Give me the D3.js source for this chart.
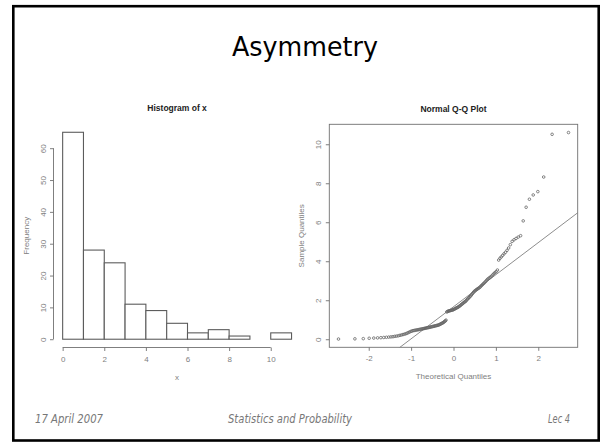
<!DOCTYPE html>
<html><head><meta charset="utf-8">
<script src="https://cdn.jsdelivr.net/npm/d3@7"></script>
<style>body{margin:0;background:#fff}svg{display:block}</style>
</head><body>
<svg id="c" width="602" height="444"></svg>
<script>
// ---------- data ----------
const slideTitle = "Asymmetry";
const footerTexts = ["17 April 2007", "Statistics and Probability", "Lec 4"];
const histBreaks = [0,1,2,3,4,5,6,7,8,9,10,11];
const histCounts = [65,28,24,11,9,5,2,3,1,0,2];
const histXTicks = [0,2,4,6,8,10];
const histYTicks = [0,10,20,30,40,50,60];
const sampleQuantiles = [
 0.01,0.02,0.03,0.05,0.06,0.07,0.08,0.09,0.10,0.11,
 0.12,0.13,0.15,0.16,0.18,0.20,0.22,0.24,0.26,0.28,
 0.31,0.34,0.37,0.40,0.42,0.44,0.45,0.46,0.47,0.48,
 0.49,0.50,0.51,0.52,0.53,0.54,0.55,0.56,0.57,0.58,
 0.59,0.60,0.61,0.62,0.63,0.64,0.65,0.66,0.67,0.68,
 0.69,0.70,0.71,0.72,0.73,0.75,0.77,0.79,0.81,0.83,
 0.85,0.88,0.91,0.94,0.98,
 1.40,1.42,1.44,1.45,1.46,1.47,1.48,1.49,1.50,1.51,
 1.53,1.55,1.57,1.59,1.61,1.63,1.65,1.67,1.70,1.73,
 1.76,1.79,1.82,1.85,1.88,1.91,1.94,1.97,
 2.02,2.06,2.10,2.14,2.18,2.22,2.27,2.32,2.37,2.42,
 2.46,2.50,2.53,2.56,2.59,2.62,2.65,2.69,2.74,2.78,
 2.83,2.87,2.92,2.97,
 3.03,3.08,3.12,3.16,3.20,3.25,3.31,3.37,3.42,3.47,3.55,
 4.06,4.15,4.22,4.30,4.38,4.46,4.56,4.68,4.85,
 5.02,5.10,5.17,5.24,5.31,
 6.07,6.77,7.18,7.40,7.57,8.32,10.51,10.60
];
const qqXTicks = [-2,-1,0,1,2];
const qqYTicks = [0,2,4,6,8,10];
const qqLineParams = [1.666, 1.645]; // intercept, slope

// ---------- helpers ----------
function qnorm(p){
 const a=[-3.969683028665376e+01,2.209460984245205e+02,-2.759285104469687e+02,1.383577518672690e+02,-3.066479806614716e+01,2.506628277459239e+00];
 const b=[-5.447609879822406e+01,1.615858368580409e+02,-1.556989798598866e+02,6.680131188771972e+01,-1.328068155288572e+01];
 const c=[-7.784894002430293e-03,-3.223964580411365e-01,-2.400758277161838e+00,-2.549732539343734e+00,4.374664141464968e+00,2.938163982698783e+00];
 const d=[7.784695709041462e-03,3.224671290700398e-01,2.445134137142996e+00,3.754408661907416e+00];
 const pl=0.02425, ph=1-pl; let q,r;
 if(p<pl){q=Math.sqrt(-2*Math.log(p));return (((((c[0]*q+c[1])*q+c[2])*q+c[3])*q+c[4])*q+c[5])/((((d[0]*q+d[1])*q+d[2])*q+d[3])*q+1);}
 if(p<=ph){q=p-0.5;r=q*q;return (((((a[0]*r+a[1])*r+a[2])*r+a[3])*r+a[4])*r+a[5])*q/(((((b[0]*r+b[1])*r+b[2])*r+b[3])*r+b[4])*r+1);}
 q=Math.sqrt(-2*Math.log(1-p));return -(((((c[0]*q+c[1])*q+c[2])*q+c[3])*q+c[4])*q+c[5])/((((d[0]*q+d[1])*q+d[2])*q+d[3])*q+1);
}
function pad4(ext){const r=ext[1]-ext[0];return [ext[0]-0.04*r, ext[1]+0.04*r];}
const fmt = d => String(d);

const svg = d3.select("#c");
const RFONT = "'Liberation Sans', Arial, sans-serif";
const SLIDEFONT = "'DejaVu Sans', 'Noto Sans', sans-serif";
const axisCol = "#707070", labCol = "#808080";

// slide frame
svg.append("rect").attr("x",13.3).attr("y",6.2).attr("width",585.4).attr("height",434.3)
  .attr("fill","#fff").attr("stroke","#000").attr("stroke-width",2.6);

svg.append("text").attr("x",305).attr("y",56).attr("text-anchor","middle")
  .attr("font-family",SLIDEFONT).attr("font-size",27).attr("fill","#000")
  .attr("textLength",146).attr("lengthAdjust","spacingAndGlyphs").text(slideTitle);

const footerX = [35, 228, 548], footerW = [68, 124, 22];
footerTexts.forEach((t,i)=>{
  svg.append("text").attr("x",footerX[i]).attr("y",423).attr("font-family",SLIDEFONT)
    .attr("font-style","italic").attr("font-size",11.5).attr("fill","#777")
    .attr("textLength",footerW[i]).attr("lengthAdjust","spacingAndGlyphs").text(t);
});

function styleAxis(g){
  g.selectAll(".domain").remove();
  g.selectAll(".tick line").attr("stroke",axisCol).attr("stroke-width",0.9);
  g.selectAll(".tick text").attr("fill",labCol).attr("font-family",RFONT).attr("font-size",8);
}
function rotateLeftLabels(g){
  g.selectAll(".tick text").attr("x",null).attr("dy",null).attr("y",-8)
    .attr("transform","rotate(-90)").attr("text-anchor","middle");
}

// ---------- histogram ----------
const H = {l:53.5, r:300.7, t:124, b:347.5};
const hx = d3.scaleLinear().domain(pad4([histBreaks[0], histBreaks[histBreaks.length-1]])).range([H.l,H.r]);
const hy = d3.scaleLinear().domain(pad4([0, d3.max(histCounts)])).range([H.b,H.t]);
const hg = svg.append("g");
hg.selectAll("rect.bar").data(histCounts).join("rect").attr("class","bar")
  .attr("x",(d,i)=>hx(histBreaks[i])).attr("width",(d,i)=>hx(histBreaks[i+1])-hx(histBreaks[i]))
  .attr("y",d=>hy(d)).attr("height",d=>hy(0)-hy(d))
  .attr("fill","#fff").attr("stroke","#5c5c5c").attr("stroke-width",1.1);
const hxa = hg.append("g").attr("transform",`translate(0,${H.b})`)
  .call(d3.axisBottom(hx).tickValues(histXTicks).tickSize(3.5).tickPadding(5).tickFormat(fmt));
styleAxis(hxa);
hxa.append("line").attr("x1",hx(histXTicks[0])).attr("x2",hx(histXTicks[histXTicks.length-1]))
  .attr("stroke",axisCol).attr("stroke-width",0.9);
const hya = hg.append("g").attr("transform",`translate(${H.l},0)`)
  .call(d3.axisLeft(hy).tickValues(histYTicks).tickSize(3.5).tickFormat(fmt));
styleAxis(hya); rotateLeftLabels(hya);
hya.append("line").attr("y1",hy(histYTicks[0])).attr("y2",hy(histYTicks[histYTicks.length-1]))
  .attr("stroke",axisCol).attr("stroke-width",0.9);
hg.append("text").attr("x",(H.l+H.r)/2).attr("y",111).attr("text-anchor","middle")
  .attr("font-family",RFONT).attr("font-weight","bold").attr("font-size",8.5).attr("fill","#222").text("Histogram of x");
hg.append("text").attr("x",(H.l+H.r)/2).attr("y",379.5).attr("text-anchor","middle")
  .attr("font-family",RFONT).attr("font-size",8).attr("fill",labCol).text("x");
hg.append("text").attr("transform",`translate(29,${(H.t+H.b)/2}) rotate(-90)`).attr("text-anchor","middle")
  .attr("font-family",RFONT).attr("font-size",8).attr("fill",labCol).text("Frequency");

// ---------- Q-Q plot ----------
const Q = {l:329.3, r:577.7, t:124.3, b:347.3};
const n = sampleQuantiles.length;
const theo = sampleQuantiles.map((v,i)=>qnorm((i+1-0.5)/n));
const qx = d3.scaleLinear().domain(pad4(d3.extent(theo))).range([Q.l,Q.r]);
const qy = d3.scaleLinear().domain(pad4(d3.extent(sampleQuantiles))).range([Q.b,Q.t]);
const qg = svg.append("g");
svg.append("clipPath").attr("id","qclip").append("rect")
  .attr("x",Q.l).attr("y",Q.t).attr("width",Q.r-Q.l).attr("height",Q.b-Q.t);
const xd = qx.domain();
qg.append("line").attr("clip-path","url(#qclip)")
  .attr("x1",qx(xd[0])).attr("x2",qx(xd[1]))
  .attr("y1",qy(qqLineParams[0]+qqLineParams[1]*xd[0])).attr("y2",qy(qqLineParams[0]+qqLineParams[1]*xd[1]))
  .attr("stroke","#808080").attr("stroke-width",0.9);
qg.selectAll("circle").data(sampleQuantiles).join("circle")
  .attr("cx",(d,i)=>qx(theo[i])).attr("cy",d=>qy(d)).attr("r",1.3)
  .attr("fill","none").attr("stroke","#666").attr("stroke-width",0.8);
qg.append("rect").attr("x",Q.l).attr("y",Q.t).attr("width",Q.r-Q.l).attr("height",Q.b-Q.t)
  .attr("fill","none").attr("stroke",axisCol).attr("stroke-width",0.9);
const qxa = qg.append("g").attr("transform",`translate(0,${Q.b})`)
  .call(d3.axisBottom(qx).tickValues(qqXTicks).tickSize(3.5).tickPadding(5).tickFormat(fmt));
styleAxis(qxa);
const qya = qg.append("g").attr("transform",`translate(${Q.l},0)`)
  .call(d3.axisLeft(qy).tickValues(qqYTicks).tickSize(3.5).tickFormat(fmt));
styleAxis(qya); rotateLeftLabels(qya);
qg.append("text").attr("x",(Q.l+Q.r)/2).attr("y",112).attr("text-anchor","middle")
  .attr("font-family",RFONT).attr("font-weight","bold").attr("font-size",8.5).attr("fill","#222").text("Normal Q-Q Plot");
qg.append("text").attr("x",(Q.l+Q.r)/2).attr("y",379).attr("text-anchor","middle")
  .attr("font-family",RFONT).attr("font-size",8).attr("fill",labCol).text("Theoretical Quantiles");
qg.append("text").attr("transform",`translate(304,${(Q.t+Q.b)/2}) rotate(-90)`).attr("text-anchor","middle")
  .attr("font-family",RFONT).attr("font-size",8).attr("fill",labCol).text("Sample Quantiles");
</script>
</body></html>
